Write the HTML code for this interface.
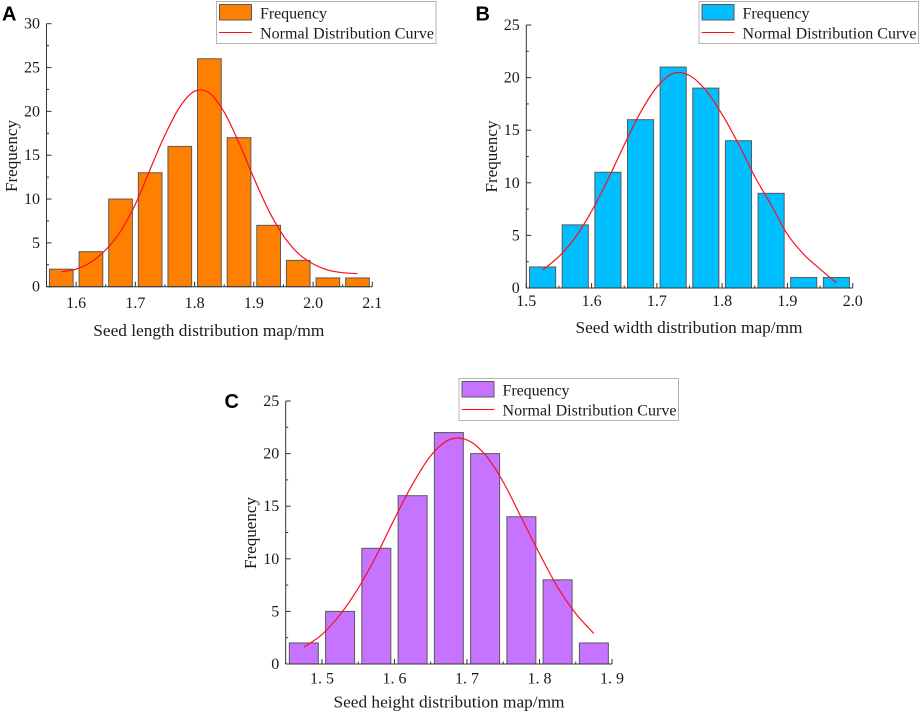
<!DOCTYPE html>
<html>
<head>
<meta charset="utf-8">
<title>Seed size distribution histograms</title>
<style>
html,body{margin:0;padding:0;background:#fff;}
svg{display:block;}
text{font-family:"Liberation Serif",serif;fill:#1a1a1a;}
.panel{font-family:"Liberation Sans",sans-serif;font-weight:bold;font-size:20px;fill:#000;}
</style>
</head>
<body>
<svg id="figure" xmlns="http://www.w3.org/2000/svg" width="920" height="713" viewBox="0 0 920 713">
<rect width="920" height="713" fill="#fff"/>
<text class="panel" x="2" y="20.5">A</text>
<text class="panel" x="475.5" y="20.5">B</text>
<text class="panel" x="224.5" y="408">C</text>
</svg>
<script>
// Panel A: seed length
const lengthBins = [1.575,1.625,1.675,1.725,1.775,1.825,1.875,1.925,1.975,2.025,2.075];
const lengthCounts = [2,4,10,13,16,26,17,7,3,1,1];
const lengthCurveX = [1.575,1.6,1.625,1.65,1.675,1.7,1.725,1.75,1.775,1.8,1.825,1.85,1.875,1.9,1.925,1.95,1.975,2.0,2.025,2.05,2.075];
const lengthCurveY = [1.7,2.0,2.8,4.2,6.3,9.4,13.4,17.3,20.5,22.3,22.1,19.9,16.4,12.4,8.7,5.8,3.8,2.6,1.9,1.6,1.5];
const lengthXTicks = ["1.6","1.7","1.8","1.9","2.0","2.1"];
const lengthXTickValues = [1.6,1.7,1.8,1.9,2.0,2.1];
const lengthYTicks = [0,5,10,15,20,25,30];

// Panel B: seed width
const widthBins = [1.525,1.575,1.625,1.675,1.725,1.775,1.825,1.875,1.925,1.975];
const widthCounts = [2,6,11,16,21,19,14,9,1,1];
const widthCurveX = [1.525,1.55,1.575,1.6,1.625,1.65,1.675,1.7,1.725,1.75,1.775,1.8,1.825,1.85,1.875,1.9,1.925,1.95,1.975];
const widthCurveY = [1.7,3.0,4.8,7.3,10.3,13.6,16.7,19.1,20.4,20.2,18.8,16.5,13.7,10.6,7.9,5.1,3.2,1.8,0.5];
const widthXTicks = ["1.5","1.6","1.7","1.8","1.9","2.0"];
const widthXTickValues = [1.5,1.6,1.7,1.8,1.9,2.0];
const widthYTicks = [0,5,10,15,20,25];

// Panel C: seed height
const heightBins = [1.475,1.525,1.575,1.625,1.675,1.725,1.775,1.825,1.875];
const heightCounts = [2,5,11,16,22,20,14,8,2];
const heightCurveX = [1.475,1.5,1.525,1.55,1.575,1.6,1.625,1.65,1.675,1.7,1.725,1.75,1.775,1.8,1.825,1.85,1.875];
const heightCurveY = [1.6,2.8,4.7,7.2,10.3,13.8,17.1,19.8,21.3,21.3,19.9,17.3,13.9,10.5,7.3,4.8,2.9];
const heightXTicks = ["1. 5","1. 6","1. 7","1. 8","1. 9"];
const heightXTickValues = [1.5,1.6,1.7,1.8,1.9];
const heightYTicks = [0,5,10,15,20,25];

const NS = "http://www.w3.org/2000/svg";
const figure = document.getElementById("figure");

function make(parent, tag, attrs, text) {
  const el = document.createElementNS(NS, tag);
  for (const k in attrs) el.setAttribute(k, attrs[k]);
  if (text !== undefined) el.textContent = text;
  parent.appendChild(el);
  return el;
}

function smoothPath(pts) {
  let d = "M" + pts[0][0].toFixed(2) + " " + pts[0][1].toFixed(2);
  for (let i = 0; i < pts.length - 1; i++) {
    const p0 = pts[Math.max(0, i - 1)], p1 = pts[i], p2 = pts[i + 1], p3 = pts[Math.min(pts.length - 1, i + 2)];
    const c1x = p1[0] + (p2[0] - p0[0]) / 6, c1y = p1[1] + (p2[1] - p0[1]) / 6;
    const c2x = p2[0] - (p3[0] - p1[0]) / 6, c2y = p2[1] - (p3[1] - p1[1]) / 6;
    d += "C" + c1x.toFixed(2) + " " + c1y.toFixed(2) + " " + c2x.toFixed(2) + " " + c2y.toFixed(2) + " " + p2[0].toFixed(2) + " " + p2[1].toFixed(2);
  }
  return d;
}

function drawPanel(cfg) {
  const g = make(figure, "g", {});
  
  

  const xScale = v => cfg.left + (v - cfg.xMin) / (cfg.xMax - cfg.xMin) * (cfg.right - cfg.left);
  const yScale = v => cfg.bottom - (v - 0) / cfg.yMax * (cfg.bottom - cfg.top);

  // bars
  cfg.bins.forEach((b, i) => {
    const x0 = xScale(b - 0.02), x1 = xScale(b + 0.02), y = yScale(cfg.counts[i]);
    const bar = make(g, "rect", {x: x0, y: y, width: x1 - x0, height: cfg.bottom - y, fill: cfg.color, stroke: "#5a5a5a", "stroke-width": 1});
    
    
  });

  // axes
  const axisColor = "#333";
  const yAxis = make(g, "line", {x1: cfg.left, x2: cfg.left, y1: cfg.top, y2: cfg.bottom, stroke: axisColor, "stroke-width": 1});
  
  
  const xAxis = make(g, "line", {x1: cfg.left, x2: cfg.right, y1: cfg.bottom, y2: cfg.bottom, stroke: axisColor, "stroke-width": 1});
  
  

  // y ticks
  cfg.yTicks.forEach((t, i) => {
    const y = yScale(t);
    const tick = make(g, "line", {x1: cfg.left, x2: cfg.left + 5, y1: y, y2: y, stroke: axisColor, "stroke-width": 1});
    
    
    const label = make(g, "text", {x: cfg.left - 6.5, y: y + 5, "text-anchor": "end", "font-size": 16}, String(t));
    
    
    if (i < cfg.yTicks.length - 1) {
      const midY = yScale((t + cfg.yTicks[i + 1]) / 2);
      const minor = make(g, "line", {x1: cfg.left, x2: cfg.left + 2.5, y1: midY, y2: midY, stroke: axisColor, "stroke-width": 1});
      
      
    }
  });

  // x ticks
  cfg.xTickValues.forEach((t, i) => {
    const x = xScale(t);
    const tick = make(g, "line", {x1: x, x2: x, y1: cfg.bottom, y2: cfg.bottom - 5, stroke: axisColor, "stroke-width": 1});
    
    
    const label = make(g, "text", {x: x, y: cfg.xTickBaseline, "text-anchor": "middle", "font-size": 16}, cfg.xTicks[i]);
    
    
    const minorX = xScale(t - 0.05);
    if (minorX >= cfg.left - 0.5) {
      const minor = make(g, "line", {x1: minorX, x2: minorX, y1: cfg.bottom, y2: cfg.bottom - 2.5, stroke: axisColor, "stroke-width": 1});
      
      
    }
  });

  // curve
  const pts = cfg.curveX.map((x, i) => [xScale(x), yScale(cfg.curveY[i])]);
  const curve = make(g, "path", {d: smoothPath(pts), fill: "none", stroke: "#fa1020", "stroke-width": 1.2});
  
  

  // axis titles
  const xt = make(g, "text", {x: cfg.xTitle[0], y: cfg.xTitle[1], "font-size": 17.3, textLength: cfg.xTitle[2], lengthAdjust: "spacing"}, cfg.xTitleText);
  
  
  const yt = make(g, "text", {transform: "translate(" + cfg.yTitle[0] + " " + cfg.yTitle[1] + ") rotate(-90)", "font-size": 17, textLength: 72, lengthAdjust: "spacing"}, "Frequency");
  
  

  // legend
  const L = cfg.legend;
  const lg = make(g, "g", {});
  
  
  const box = make(lg, "rect", {x: L.x, y: L.y, width: 219.5, height: 42, fill: "#fff", stroke: "#b4b4b4", "stroke-width": 1});
  
  
  const sw = make(lg, "rect", {x: L.x + 3, y: L.y + 3, width: 32, height: 15.5, fill: cfg.color, stroke: "#5a5a5a", "stroke-width": 1});
  
  
  const ln = make(lg, "line", {x1: L.x + 2.5, x2: L.x + 35.5, y1: L.y + 31, y2: L.y + 31, stroke: "#fa1020", "stroke-width": 1});
  
  
  const t1 = make(lg, "text", {x: L.x + 43.5, y: L.y + 17, "font-size": 16, textLength: 67, lengthAdjust: "spacing"}, "Frequency");
  
  
  const t2 = make(lg, "text", {x: L.x + 43.5, y: L.y + 37, "font-size": 16, textLength: 174, lengthAdjust: "spacing"}, "Normal Distribution Curve");
  
  
}

drawPanel({
  name: "seed-length", color: "#ff8000",
  left: 46.5, right: 372.3, top: 23.7, bottom: 286.7,
  xMin: 1.55, xMax: 2.1, yMax: 30,
  bins: lengthBins, counts: lengthCounts, curveX: lengthCurveX, curveY: lengthCurveY,
  xTicks: lengthXTicks, xTickValues: lengthXTickValues, yTicks: lengthYTicks,
  xTickBaseline: 308, xTitleText: "Seed length distribution map/mm", xTitle: [93.3, 336, 231], yTitle: [17, 192],
  legend: {x: 216.5, y: 1.5}
});
drawPanel({
  name: "seed-width", color: "#00bfff",
  left: 526.3, right: 852.7, top: 25, bottom: 288,
  xMin: 1.5, xMax: 2.0, yMax: 25,
  bins: widthBins, counts: widthCounts, curveX: widthCurveX, curveY: widthCurveY,
  xTicks: widthXTicks, xTickValues: widthXTickValues, yTicks: widthYTicks,
  xTickBaseline: 306, xTitleText: "Seed width distribution map/mm", xTitle: [575.5, 333, 227], yTitle: [497, 192.5],
  legend: {x: 699, y: 1.5}
});
drawPanel({
  name: "seed-height", color: "#c673ff",
  left: 285.7, right: 612, top: 401, bottom: 664,
  xMin: 1.45, xMax: 1.9, yMax: 25,
  bins: heightBins, counts: heightCounts, curveX: heightCurveX, curveY: heightCurveY,
  xTicks: heightXTicks, xTickValues: heightXTickValues, yTicks: heightYTicks,
  xTickBaseline: 683.5, xTitleText: "Seed height distribution map/mm", xTitle: [333.5, 707.5, 231], yTitle: [256, 569],
  legend: {x: 459, y: 378.5}
});
</script>
</body>
</html>
